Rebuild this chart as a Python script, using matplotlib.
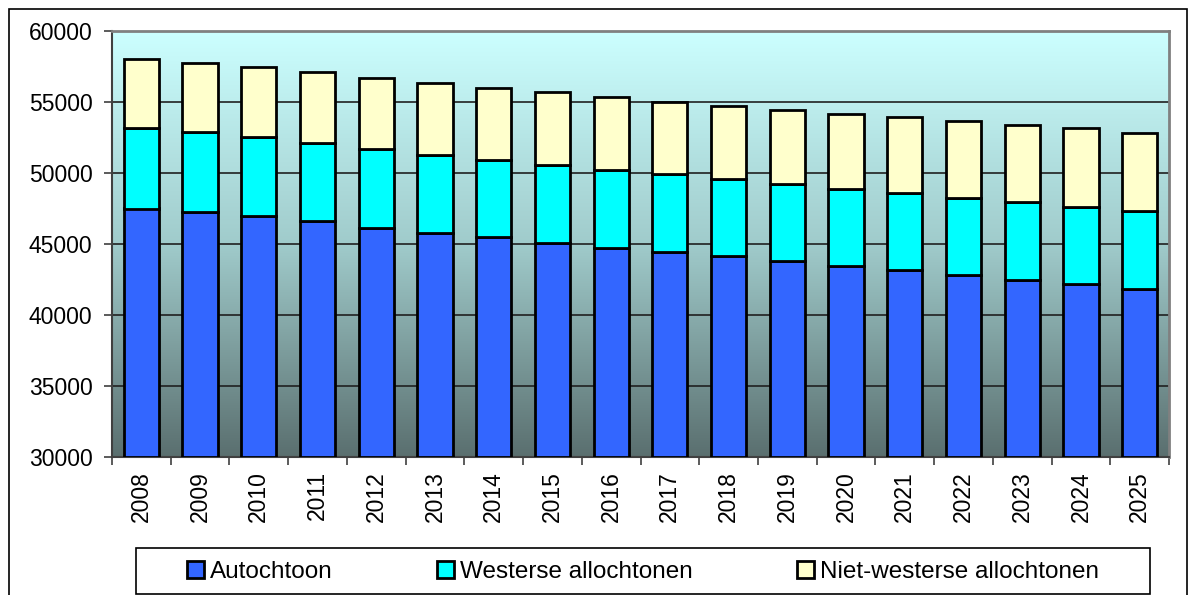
import numpy as np
import matplotlib
matplotlib.use("Agg")
import matplotlib.pyplot as plt
from matplotlib.colors import LinearSegmentedColormap
from matplotlib.patches import Rectangle
from matplotlib.ticker import MultipleLocator, FixedLocator

years = ["2008", "2009", "2010", "2011", "2012", "2013", "2014", "2015", "2016",
         "2017", "2018", "2019", "2020", "2021", "2022", "2023", "2024", "2025"]
autochtoon = [47500, 47280, 46970, 46590, 46130, 45750, 45470, 45070, 44740,
              44440, 44130, 43780, 43420, 43140, 42790, 42470, 42160, 41850]
westerse = [5640, 5580, 5570, 5520, 5530, 5520, 5450, 5490, 5490,
            5460, 5470, 5450, 5450, 5470, 5450, 5460, 5450, 5450]
niet_westerse = [4890, 4910, 4950, 5000, 5030, 5070, 5070, 5120, 5090,
                 5100, 5140, 5210, 5260, 5310, 5420, 5420, 5530, 5540]
series_names = ["Autochtoon", "Westerse allochtonen", "Niet-westerse allochtonen"]
colors = ["#3366FF", "#00FFFF", "#FFFFCC"]

plt.rcParams['font.family'] = ['Liberation Sans', 'DejaVu Sans']

W, H = 1193, 595
fig = plt.figure(figsize=(W / 100, H / 100), dpi=100)
ax = fig.add_axes([112 / W, 1 - 457 / H, 1057 / W, 426 / H])

x = np.arange(len(years))
ymin, ymax = 30000, 60000

# gradient background
cmap = LinearSegmentedColormap.from_list(
    "bg", [(0.0, "#5A6F6F"), (0.5, "#A0CBCB"), (1.0, "#CCFFFF")])
grad = np.linspace(0, 1, 256).reshape(-1, 1)
ax.imshow(grad, aspect="auto", cmap=cmap, origin="lower",
          extent=(-0.5, len(years) - 0.5, ymin, ymax), zorder=0)

a = np.array(autochtoon)
w = np.array(westerse)
n = np.array(niet_westerse)
bw = 0.6
lw = 2.0
handles = []
handles.append(ax.bar(x, a - ymin, bw, bottom=ymin, color=colors[0], edgecolor="black",
                      linewidth=lw, zorder=3, label=series_names[0]))
handles.append(ax.bar(x, w, bw, bottom=a, color=colors[1], edgecolor="black",
                      linewidth=lw, zorder=3, label=series_names[1]))
handles.append(ax.bar(x, n, bw, bottom=a + w, color=colors[2], edgecolor="black",
                      linewidth=lw, zorder=3, label=series_names[2]))

ax.set_xlim(-0.5, len(years) - 0.5)
ax.set_ylim(ymin, ymax)
ax.yaxis.set_major_locator(MultipleLocator(5000))
ax.grid(axis="y", color="#202020", linewidth=1.2, zorder=1)
ax.set_axisbelow(True)

ax.set_xticks(x)
ax.set_xticklabels(years, rotation=90, fontsize=16.5)
ax.xaxis.set_minor_locator(FixedLocator(np.arange(-0.5, len(years), 1.0)))
ax.tick_params(axis="x", which="major", length=0, pad=10)
ax.tick_params(axis="x", which="minor", length=6, width=1.2, color="#404040")
ax.tick_params(axis="y", which="major", length=6, width=1.2, color="#404040",
               labelsize=16.5, pad=8)

for side in ["top", "right"]:
    ax.spines[side].set_color("#808080")
    ax.spines[side].set_linewidth(2)
for side in ["left", "bottom"]:
    ax.spines[side].set_color("#404040")
    ax.spines[side].set_linewidth(1.5)

# legend frame + legend
fig.add_artist(Rectangle((136 / W, 1 - 594 / H), (1150 - 136) / W, (594 - 548) / H,
                         transform=fig.transFigure, facecolor="white",
                         edgecolor="black", linewidth=1.2, zorder=5))
leg = fig.legend(handles=handles, labels=series_names, ncol=3,
                 loc="center", bbox_to_anchor=(643 / W, 1 - 572 / H),
                 frameon=False, fontsize=17.5, handlelength=0.7, handleheight=0.7,
                 handletextpad=0.25, columnspacing=4.3)
leg.set_zorder(6)
for h in leg.legend_handles:
    h.set_linewidth(2.0)

# outer chart border
fig.add_artist(Rectangle((9 / W, -0.05), (1187 - 9) / W, 1 - 9 / H + 0.05,
                         transform=fig.transFigure, fill=False,
                         edgecolor="black", linewidth=1.2, zorder=10))

fig.savefig("out.png", dpi=100)
